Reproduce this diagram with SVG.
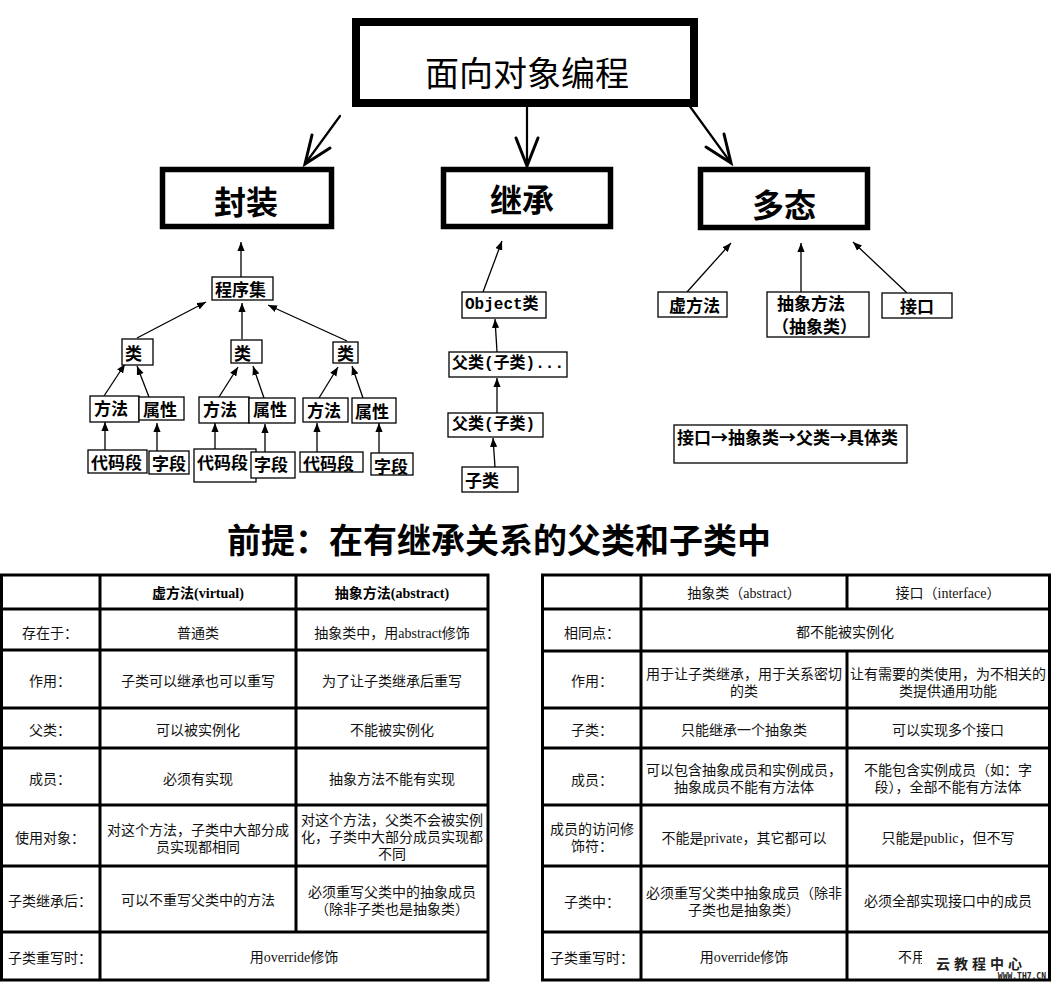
<svg xmlns="http://www.w3.org/2000/svg" width="1052" height="983" viewBox="0 0 1052 983">
<style>
.bg{fill:#fff}
.box{fill:#fff;stroke:#000;stroke-width:1.3}
.big{fill:#fff;stroke:#000;stroke-width:5.5}
.top{fill:#fff;stroke:#000;stroke-width:8}
.bt{font-family:"Noto Sans CJK SC",sans-serif;font-weight:bold;font-size:17px;fill:#000;dominant-baseline:central}
.mt{font-family:"Liberation Mono","Noto Sans CJK SC",monospace;font-weight:bold;font-size:16px;fill:#000;dominant-baseline:central}
.hd{font-family:"Noto Sans CJK SC",sans-serif;font-weight:bold;font-size:32px;fill:#000;text-anchor:middle;dominant-baseline:central}
.conn line{stroke:#000;stroke-width:1.3;marker-end:url(#tri)}
.open path{fill:none;stroke:#000;stroke-linecap:round}
.tb{fill:none;stroke:#000;stroke-width:3}
.tl{stroke:#000;stroke-width:3}
.c{font-family:"Liberation Serif","Noto Sans CJK SC",serif;font-size:14px;fill:#111;text-anchor:middle;dominant-baseline:central}
.ch{font-family:"Liberation Serif","Noto Sans CJK SC",serif;font-size:14px;font-weight:bold;fill:#000;text-anchor:middle;dominant-baseline:central}
</style>
<defs>
<marker id="tri" viewBox="0 0 10 8" refX="10" refY="4" markerWidth="9" markerHeight="7.5" orient="auto" markerUnits="userSpaceOnUse"><path d="M0,0 L10,4 L0,8 z" fill="#000"/></marker>
</defs>
<rect class="bg" x="0" y="0" width="1052" height="983"/>

<g id="connectors">
  <g class="open">
    <path d="M340,116 L305,164" stroke-width="2.2"/>
    <path d="M312,135 L305,164 L330,148" stroke-width="3"/>
    <path d="M527,98 L527,166" stroke-width="2.2"/>
    <path d="M516,138 L527,166 L538,138" stroke-width="3"/>
    <path d="M678,90 L731,163" stroke-width="2.2"/>
    <path d="M724,134 L731,163 L706,147" stroke-width="3"/>
  </g>
  <g class="conn">
    <line x1="241" y1="277" x2="241" y2="242"/>
    <line x1="137" y1="338" x2="206" y2="302"/>
    <line x1="242" y1="339" x2="242" y2="303"/>
    <line x1="347" y1="341" x2="268" y2="305"/>
    <line x1="104" y1="396" x2="125" y2="364"/>
    <line x1="149" y1="397" x2="137" y2="366"/>
    <line x1="219" y1="397" x2="238" y2="367"/>
    <line x1="264" y1="398" x2="253" y2="366"/>
    <line x1="319" y1="398" x2="338" y2="367"/>
    <line x1="363" y1="398" x2="352" y2="366"/>
    <line x1="105" y1="450" x2="105" y2="422"/>
    <line x1="157" y1="451" x2="157" y2="423"/>
    <line x1="215" y1="449" x2="215" y2="423"/>
    <line x1="265" y1="452" x2="265" y2="424"/>
    <line x1="317" y1="452" x2="317" y2="423"/>
    <line x1="379" y1="453" x2="379" y2="423"/>
    <line x1="483" y1="292" x2="502" y2="241"/>
    <line x1="497" y1="352" x2="495" y2="319"/>
    <line x1="497" y1="413" x2="497" y2="378"/>
    <line x1="495" y1="467" x2="493" y2="438"/>
    <line x1="687" y1="292" x2="731" y2="243"/>
    <line x1="801" y1="292" x2="801" y2="243"/>
    <line x1="907" y1="293" x2="853" y2="242"/>
  </g>
</g>

<g id="n-oop">
  <rect class="top" x="356" y="22" width="338" height="81"/>
  <text x="527" y="71" font-family="Noto Sans CJK SC, sans-serif" font-size="34" text-anchor="middle" dominant-baseline="central" fill="#000">面向对象编程</text>
</g>
<g id="n-encap">
  <rect class="big" x="162.5" y="169.5" width="169" height="57"/>
  <text class="hd" x="246" y="200">封装</text>
</g>
<g id="n-inherit">
  <rect class="big" x="443.5" y="169.5" width="167" height="57"/>
  <text class="hd" x="522" y="198">继承</text>
</g>
<g id="n-poly">
  <rect class="big" x="700.5" y="169.5" width="167" height="58"/>
  <text class="hd" x="784" y="203">多态</text>
</g>

<g id="n-assembly"><rect class="box" x="212" y="277" width="61" height="23"/><text class="bt" x="215" y="288">程序集</text></g>
<g id="n-class1"><rect class="box" x="122" y="339" width="31" height="26"/><text class="bt" x="125" y="352">类</text></g>
<g id="n-class2"><rect class="box" x="231" y="340" width="31" height="23"/><text class="bt" x="234" y="352">类</text></g>
<g id="n-class3"><rect class="box" x="333" y="342" width="25" height="21"/><text class="bt" x="337" y="352">类</text></g>
<g id="n-method1"><rect class="box" x="90" y="396" width="49" height="26"/><text class="bt" x="94" y="407">方法</text></g>
<g id="n-prop1"><rect class="box" x="139" y="397" width="45" height="23"/><text class="bt" x="143" y="408">属性</text></g>
<g id="n-method2"><rect class="box" x="199" y="397" width="50" height="26"/><text class="bt" x="203" y="408">方法</text></g>
<g id="n-prop2"><rect class="box" x="249" y="398" width="46" height="25"/><text class="bt" x="253" y="408">属性</text></g>
<g id="n-method3"><rect class="box" x="303" y="398" width="45" height="24"/><text class="bt" x="307" y="409">方法</text></g>
<g id="n-prop3"><rect class="box" x="352" y="398" width="44" height="25"/><text class="bt" x="355" y="410">属性</text></g>
<g id="n-code1"><rect class="box" x="88" y="450" width="59" height="23"/><text class="bt" x="91" y="461">代码段</text></g>
<g id="n-field1"><rect class="box" x="149" y="451" width="40" height="23"/><text class="bt" x="152" y="462">字段</text></g>
<g id="n-code2"><rect class="box" x="194" y="449" width="62" height="33"/><text class="bt" x="197" y="461">代码段</text></g>
<g id="n-field2"><rect class="box" x="251" y="452" width="44" height="26"/><text class="bt" x="254" y="463">字段</text></g>
<g id="n-code3"><rect class="box" x="300" y="452" width="63" height="20"/><text class="bt" x="303" y="462">代码段</text></g>
<g id="n-field3"><rect class="box" x="371" y="453" width="42" height="22"/><text class="bt" x="374" y="465">字段</text></g>

<g id="n-object"><rect class="box" x="462" y="292" width="84" height="26"/><text class="mt" x="465" y="305">Object类</text></g>
<g id="n-parent2"><rect class="box" x="449" y="352" width="118" height="25"/><text class="mt" x="452" y="364">父类(子类)...</text></g>
<g id="n-parent1"><rect class="box" x="448" y="413" width="95" height="24"/><text class="mt" x="452" y="425">父类(子类)</text></g>
<g id="n-child"><rect class="box" x="462" y="467" width="56" height="25"/><text class="bt" x="465" y="479">子类</text></g>

<g id="n-virtual"><rect class="box" x="658" y="292" width="69" height="25"/><text class="bt" x="669" y="304">虚方法</text></g>
<g id="n-abstract"><rect class="box" x="767" y="292" width="102" height="45"/><text class="bt" x="777" y="302" font-size="16">抽象方法</text><text class="bt" x="772" y="325" font-size="16">（抽象类）</text></g>
<g id="n-interface"><rect class="box" x="882" y="293" width="70" height="25"/><text class="bt" x="900" y="305">接口</text></g>
<g id="n-chain"><rect class="box" x="674" y="425" width="233" height="38"/><text class="bt" x="677" y="436">接口→抽象类→父类→具体类</text></g>

<g id="title">
  <text x="499" y="538" font-family="Noto Sans CJK SC, sans-serif" font-weight="bold" font-size="34" text-anchor="middle" dominant-baseline="central" fill="#000">前提：在有继承关系的父类和子类中</text>
</g>

<g id="table-left">
  <rect class="tb" x="1.5" y="575" width="486.5" height="405"/>
  <line class="tl" x1="100" y1="575" x2="100" y2="980"/>
  <line class="tl" x1="296" y1="575" x2="296" y2="932"/>
  <line class="tl" x1="1.5" y1="609" x2="488" y2="609"/>
  <line class="tl" x1="1.5" y1="650" x2="488" y2="650"/>
  <line class="tl" x1="1.5" y1="708" x2="488" y2="708"/>
  <line class="tl" x1="1.5" y1="748" x2="488" y2="748"/>
  <line class="tl" x1="1.5" y1="805" x2="488" y2="805"/>
  <line class="tl" x1="1.5" y1="866" x2="488" y2="866"/>
  <line class="tl" x1="1.5" y1="932" x2="488" y2="932"/>
  <text class="ch" x="198" y="593">虚方法(virtual)</text>
  <text class="ch" x="392" y="593">抽象方法(abstract)</text>
  <text class="c" x="50" y="633">存在于：</text>
  <text class="c" x="198" y="633">普通类</text>
  <text class="c" x="392" y="633">抽象类中，用abstract修饰</text>
  <text class="c" x="50" y="681">作用：</text>
  <text class="c" x="198" y="681">子类可以继承也可以重写</text>
  <text class="c" x="392" y="681">为了让子类继承后重写</text>
  <text class="c" x="50" y="730">父类：</text>
  <text class="c" x="198" y="730">可以被实例化</text>
  <text class="c" x="392" y="730">不能被实例化</text>
  <text class="c" x="50" y="779">成员：</text>
  <text class="c" x="198" y="779">必须有实现</text>
  <text class="c" x="392" y="779">抽象方法不能有实现</text>
  <text class="c" x="50" y="838">使用对象：</text>
  <text class="c" x="198" y="830">对这个方法，子类中大部分成</text>
  <text class="c" x="198" y="847">员实现都相同</text>
  <text class="c" x="392" y="820">对这个方法，父类不会被实例</text>
  <text class="c" x="392" y="837">化，子类中大部分成员实现都</text>
  <text class="c" x="392" y="854">不同</text>
  <text class="c" x="50" y="901">子类继承后：</text>
  <text class="c" x="198" y="900">可以不重写父类中的方法</text>
  <text class="c" x="392" y="892">必须重写父类中的抽象成员</text>
  <text class="c" x="392" y="909">（除非子类也是抽象类）</text>
  <text class="c" x="50" y="958">子类重写时：</text>
  <text class="c" x="294" y="957">用override修饰</text>
</g>

<g id="table-right">
  <rect class="tb" x="542.5" y="575" width="507" height="405"/>
  <line class="tl" x1="641" y1="575" x2="641" y2="980"/>
  <line class="tl" x1="847" y1="575" x2="847" y2="609"/>
  <line class="tl" x1="847" y1="651" x2="847" y2="980"/>
  <line class="tl" x1="542.5" y1="609" x2="1049.5" y2="609"/>
  <line class="tl" x1="542.5" y1="651" x2="1049.5" y2="651"/>
  <line class="tl" x1="542.5" y1="708" x2="1049.5" y2="708"/>
  <line class="tl" x1="542.5" y1="748" x2="1049.5" y2="748"/>
  <line class="tl" x1="542.5" y1="805" x2="1049.5" y2="805"/>
  <line class="tl" x1="542.5" y1="866" x2="1049.5" y2="866"/>
  <line class="tl" x1="542.5" y1="932" x2="1049.5" y2="932"/>
  <text class="c" x="744" y="593">抽象类（abstract）</text>
  <text class="c" x="948" y="593">接口（interface）</text>
  <text class="c" x="592" y="633">相同点：</text>
  <text class="c" x="845" y="632">都不能被实例化</text>
  <text class="c" x="592" y="681">作用：</text>
  <text class="c" x="744" y="674">用于让子类继承，用于关系密切</text>
  <text class="c" x="744" y="691">的类</text>
  <text class="c" x="948" y="674">让有需要的类使用，为不相关的</text>
  <text class="c" x="948" y="691">类提供通用功能</text>
  <text class="c" x="592" y="730">子类：</text>
  <text class="c" x="744" y="730">只能继承一个抽象类</text>
  <text class="c" x="948" y="730">可以实现多个接口</text>
  <text class="c" x="592" y="780">成员：</text>
  <text class="c" x="744" y="770">可以包含抽象成员和实例成员，</text>
  <text class="c" x="744" y="787">抽象成员不能有方法体</text>
  <text class="c" x="948" y="770">不能包含实例成员（如：字</text>
  <text class="c" x="948" y="787">段），全部不能有方法体</text>
  <text class="c" x="592" y="829">成员的访问修</text>
  <text class="c" x="592" y="846">饰符：</text>
  <text class="c" x="744" y="838">不能是private，其它都可以</text>
  <text class="c" x="948" y="838">只能是public，但不写</text>
  <text class="c" x="592" y="902">子类中：</text>
  <text class="c" x="744" y="893">必须重写父类中抽象成员（除非</text>
  <text class="c" x="744" y="910">子类也是抽象类）</text>
  <text class="c" x="948" y="901">必须全部实现接口中的成员</text>
  <text class="c" x="592" y="958">子类重写时：</text>
  <text class="c" x="744" y="957">用override修饰</text>
  <text class="c" x="912" y="957">不用</text>
</g>

<g id="watermark">
  <rect x="922" y="946" width="125" height="32" fill="#fff"/>
  <text x="981" y="963" font-family="Noto Sans CJK SC, sans-serif" font-weight="bold" font-size="14" letter-spacing="4" text-anchor="middle" dominant-baseline="central" fill="#222">云教程中心</text>
  <text x="1046" y="976" font-family="DejaVu Sans Mono, monospace" font-weight="bold" font-size="8" text-anchor="end" dominant-baseline="central" fill="#222">WWW.TH7.CN</text>
</g>
</svg>
